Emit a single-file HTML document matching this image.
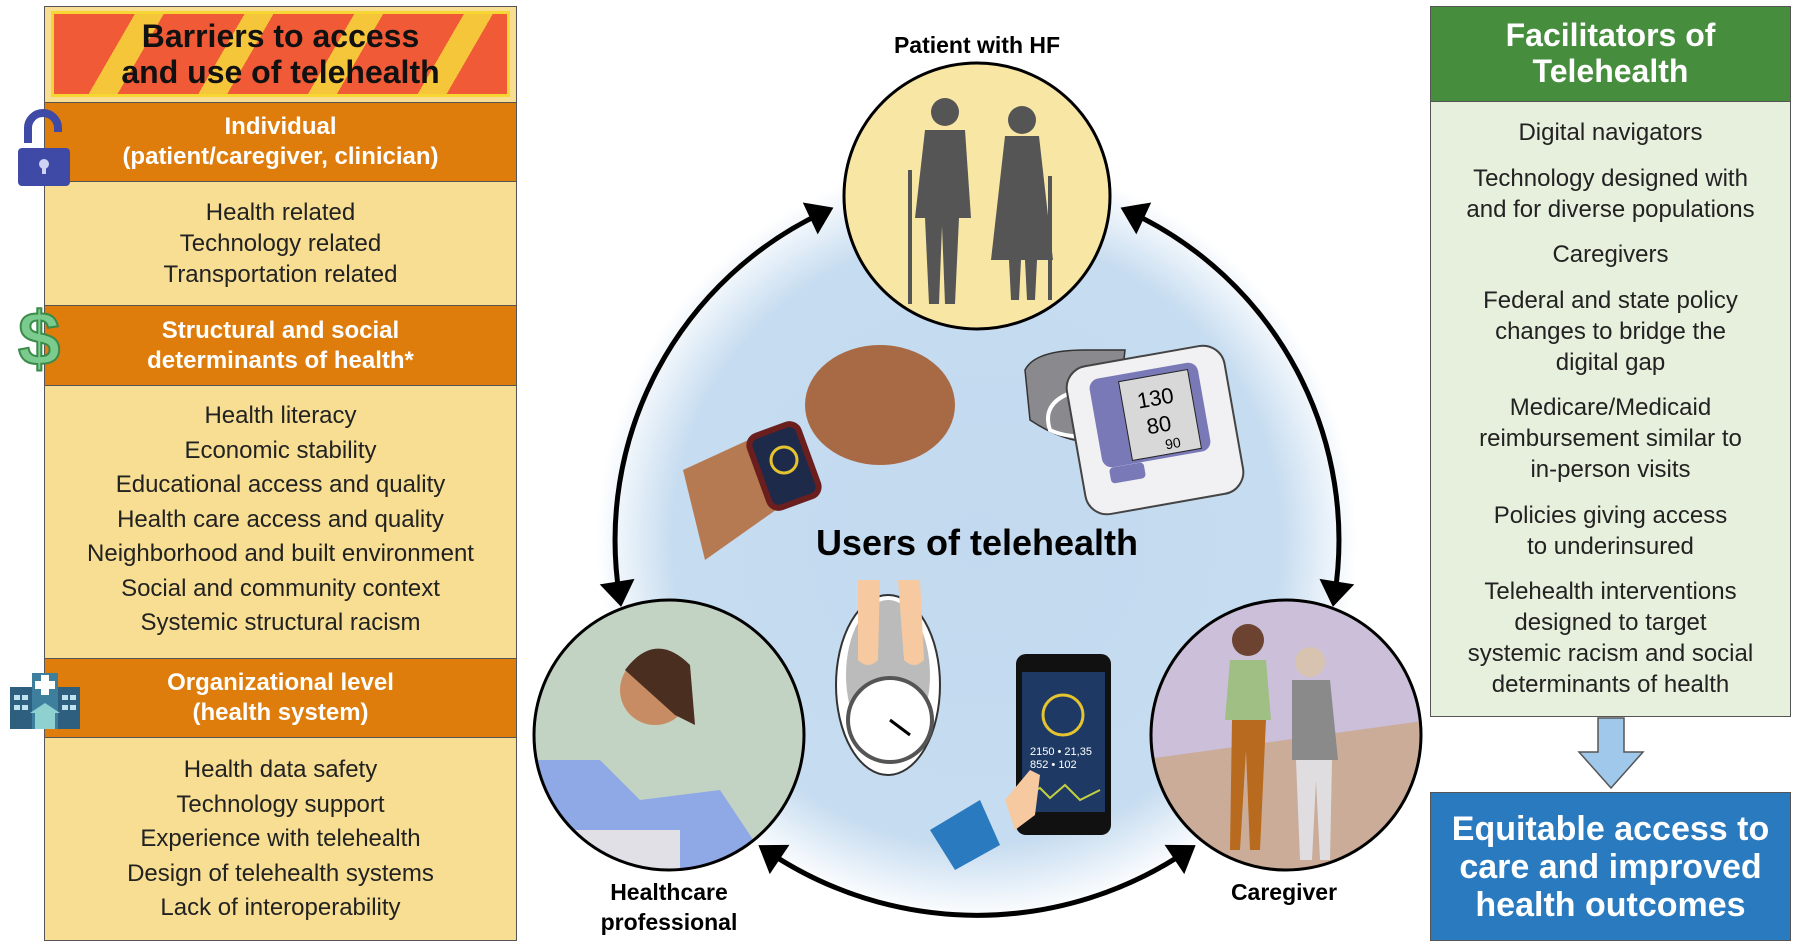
<!DOCTYPE html>
<html><head><meta charset="utf-8"><style>
*{margin:0;padding:0;box-sizing:border-box}
body{width:1800px;height:949px;background:#fff;position:relative;overflow:hidden;font-family:"Liberation Sans",Arial,sans-serif;color:#1a1a1a}
.abs{position:absolute}
.left{left:44px;top:6px;width:473px;height:935px;border:1.5px solid #555;background:#f7de92}
.hdr{position:absolute;left:0;width:100%;background:#de7c0c;color:#fff;font-weight:bold;font-size:24px;text-align:center;line-height:30px;border-top:1.5px solid #555;border-bottom:1.5px solid #555;display:flex;flex-direction:column;justify-content:center}
.cnt{position:absolute;left:0;width:100%;text-align:center;font-size:24px;color:#222}
.right{left:1430px;top:6px;width:361px;height:711px;border:1.5px solid #555;background:#e7f0dd}
.rh{position:absolute;left:0;top:0;width:100%;height:95px;background:#468d3e;color:#fff;font-weight:bold;font-size:32px;line-height:36px;text-align:center;padding-top:10px;border-bottom:1.5px solid #555}
.rc{position:absolute;left:0;top:110px;width:100%;text-align:center;font-size:24px;line-height:31px;color:#222}
.rc p{margin-bottom:14.5px}
</style></head><body>

<div class="abs left">
  <div class="abs" style="left:6px;top:4px;width:459px;height:86px;background:#f7d633;padding:3px">
    <div style="width:100%;height:100%;background:repeating-linear-gradient(120deg,#f05a36 0 70px,#f6c63a 70px 95px);display:flex;flex-direction:column;justify-content:center;text-align:center;font-weight:bold;font-size:32px;line-height:36px;color:#111">Barriers to access<br>and use of telehealth</div>
  </div>
  <div class="hdr" style="top:95px;height:80px">Individual<br>(patient/caregiver, clinician)</div>
  <div class="cnt" style="top:190px;line-height:31px">Health related<br>Technology related<br>Transportation related</div>
  <div class="hdr" style="top:298px;height:81px">Structural and social<br>determinants of health*</div>
  <div class="cnt" style="top:392px;line-height:34.5px">Health literacy<br>Economic stability<br>Educational access and quality<br>Health care access and quality<br>Neighborhood and built environment<br>Social and community context<br>Systemic structural racism</div>
  <div class="hdr" style="top:651px;height:80px">Organizational level<br>(health system)</div>
  <div class="cnt" style="top:746px;line-height:34.5px">Health data safety<br>Technology support<br>Experience with telehealth<br>Design of telehealth systems<br>Lack of interoperability</div>
</div>

<svg class="abs" style="left:14px;top:88px" width="60" height="120">
  <path d="M14 55 V40 a15 15 0 0 1 30 0 v4" fill="none" stroke="#3f49a6" stroke-width="8"/>
  <rect x="4" y="60" width="52" height="38" rx="4" fill="#3f49a6"/>
  <circle cx="30" cy="76" r="5" fill="#cfd3f2"/><rect x="28" y="78" width="4" height="8" fill="#cfd3f2"/>
</svg>
<div class="abs" style="left:18px;top:302px;font-size:76px;font-weight:bold;color:#7ccb8e;line-height:76px;-webkit-text-stroke:2px #3a8a4a">$</div>
<svg class="abs" style="left:10px;top:665px" width="70" height="65">
  <rect x="0" y="22" width="70" height="42" fill="#2f5f7e"/>
  <rect x="22" y="8" width="26" height="56" fill="#3f7f9e"/>
  <rect x="31" y="10" width="8" height="20" fill="#fff"/><rect x="25" y="16" width="20" height="8" fill="#fff"/>
  <polygon points="20,48 35,38 50,48" fill="#8fd0d0"/><rect x="25" y="48" width="20" height="16" fill="#8fd0d0"/>
  <g fill="#bfe3ef"><rect x="4" y="30" width="6" height="5"/><rect x="12" y="30" width="6" height="5"/><rect x="52" y="30" width="6" height="5"/><rect x="60" y="30" width="6" height="5"/><rect x="4" y="40" width="6" height="5"/><rect x="12" y="40" width="6" height="5"/><rect x="52" y="40" width="6" height="5"/><rect x="60" y="40" width="6" height="5"/></g>
</svg>

<svg class="abs" style="left:0;top:0" width="1800" height="949">
  <defs>
    <radialGradient id="bg" cx="977" cy="540" r="380" gradientUnits="userSpaceOnUse">
      <stop offset="0" stop-color="#c3d9ef"/><stop offset="0.8" stop-color="#c6dcf0"/><stop offset="1" stop-color="#fff"/>
    </radialGradient>
    <clipPath id="c1"><circle cx="669" cy="735" r="134"/></clipPath>
    <clipPath id="c2"><circle cx="1286" cy="735" r="134"/></clipPath>
    <marker id="ah" viewBox="0 0 10 10" refX="5" refY="5" markerWidth="8" markerHeight="8" orient="auto-start-reverse" markerUnits="userSpaceOnUse" style="overflow:visible">
      <polygon points="-14,-17 18,5 -14,27" fill="#000"/>
    </marker>
  </defs>
  <circle cx="977" cy="540" r="380" fill="url(#bg)"/>
  <path d="M619.5 596.6 A362 362 0 0 1 824 212" fill="none" stroke="#000" stroke-width="5" marker-start="url(#ah)" marker-end="url(#ah)"/>
  <path d="M1130 212 A362 362 0 0 1 1334.5 596.6" fill="none" stroke="#000" stroke-width="5" marker-start="url(#ah)" marker-end="url(#ah)"/>
  <path d="M767 851 A375 375 0 0 0 1187 851" fill="none" stroke="#000" stroke-width="5" marker-start="url(#ah)" marker-end="url(#ah)"/>

  <circle cx="977" cy="196" r="133" fill="#f8e6a5" stroke="#000" stroke-width="3"/>
  <g fill="#555">
    <circle cx="945" cy="112" r="14"/><path d="M925 130 h40 l6 88 h-12 l-4 86 h-10 l-3 -78 l-3 78 h-10 l-4-86 h-10z"/>
    <rect x="908" y="170" width="4" height="134"/>
    <circle cx="1022" cy="120" r="14"/><path d="M1005 136 h34 l14 124 h-16 l-2 40 h-8 l-2 -40 h-4 l-2 40 h-8 l-2 -40 h-18z"/>
    <rect x="1048" y="176" width="4" height="124"/>
  </g>

  <circle cx="669" cy="735" r="135" fill="#c3d3c3"/>
  <g clip-path="url(#c1)">
    <path d="M530 760 L600 760 L640 800 L720 790 L780 880 L530 880z" fill="#8fa8e6"/>
    <circle cx="655" cy="690" r="35" fill="#c78c63"/>
    <path d="M625 670 q30 -40 65 -5 l5 60 l-20 -10 z" fill="#4a2e20"/>
    <rect x="530" y="830" width="150" height="40" fill="#e0e0e6"/>
  </g>
  <circle cx="669" cy="735" r="135" fill="none" stroke="#000" stroke-width="3"/>

  <circle cx="1286" cy="735" r="135" fill="#cbbfd9"/>
  <g clip-path="url(#c2)">
    <path d="M1140 760 L1430 720 L1430 880 L1140 880z" fill="#c9a47e" opacity="0.7"/>
    <circle cx="1248" cy="640" r="16" fill="#6b4330"/>
    <path d="M1230 660 h36 l5 60 h-46z" fill="#9fbf85"/>
    <path d="M1232 720 h34 l-6 130 h-10 l-4 -100 l-6 100 h-10z" fill="#b86a1f"/>
    <circle cx="1310" cy="662" r="15" fill="#d8c3b0"/>
    <path d="M1292 680 h38 l8 80 h-46z" fill="#8a8a8a"/>
    <path d="M1296 760 h36 l-2 100 h-10 l-4 -80 l-4 80 h-12z" fill="#e0dde0"/>
  </g>
  <circle cx="1286" cy="735" r="135" fill="none" stroke="#000" stroke-width="3"/>

  <polygon points="683,470 770,430 790,500 705,560" fill="#b67a52"/>
  <ellipse cx="880" cy="405" rx="75" ry="60" fill="#a86a45"/>
  <rect x="758" y="428" width="52" height="76" rx="10" fill="#1d2a4a" stroke="#6b1e1e" stroke-width="6" transform="rotate(-20 784 466)"/>
  <circle cx="784" cy="460" r="13" fill="none" stroke="#e6c430" stroke-width="3"/>

  <path d="M1025 370 q10 -20 60 -20 l40 0 l-10 90 q-40 10 -85 -20z" fill="#8a8a8e" stroke="#333" stroke-width="1.5"/>
  <path d="M1080 390 q-40 10 -30 40 q20 10 60 5" fill="none" stroke="#fff" stroke-width="4"/>
  <rect x="1075" y="355" width="160" height="150" rx="22" fill="#f1f1f3" stroke="#444" stroke-width="2" transform="rotate(-10 1155 430)"/>
  <rect x="1095" y="370" width="110" height="90" rx="10" fill="#7a79b8" transform="rotate(-10 1150 415)"/>
  <rect x="1125" y="375" width="70" height="80" fill="#d8d8d8" stroke="#222" transform="rotate(-10 1160 415)"/>
  <text x="1140" y="405" font-size="22" font-family="Liberation Sans" transform="rotate(-10 1160 415)">130</text>
  <text x="1145" y="432" font-size="22" font-family="Liberation Sans" transform="rotate(-10 1160 415)">80</text>
  <text x="1160" y="450" font-size="14" font-family="Liberation Sans" transform="rotate(-10 1160 415)">90</text>
  <rect x="1110" y="465" width="35" height="16" rx="4" fill="#7a79b8" transform="rotate(-10 1127 473)"/>

  <ellipse cx="888" cy="685" rx="52" ry="90" fill="#fff" stroke="#333" stroke-width="2"/>
  <ellipse cx="888" cy="675" rx="42" ry="75" fill="#bbb"/>
  <circle cx="890" cy="720" r="42" fill="#fff" stroke="#555" stroke-width="4"/>
  <line x1="890" y1="720" x2="910" y2="735" stroke="#000" stroke-width="3"/>
  <path d="M858 580 h22 l-2 80 q-10 10 -20 0z M898 580 h22 l4 80 q-10 10 -20 0z" fill="#f6c9a0"/>

  <rect x="1016" y="654" width="95" height="181" rx="10" fill="#111"/>
  <rect x="1022" y="672" width="83" height="140" fill="#1e3a64"/>
  <circle cx="1063" cy="715" r="20" fill="none" stroke="#e6c430" stroke-width="3"/>
  <text x="1030" y="755" font-size="11" fill="#fff" font-family="Liberation Sans">2150 • 21,35</text>
  <text x="1030" y="768" font-size="11" fill="#fff" font-family="Liberation Sans">852 • 102</text>
  <polyline points="1026,795 1040,788 1050,798 1065,785 1080,800 1100,790" fill="none" stroke="#c4d040" stroke-width="2"/>
  <path d="M1005 800 l25 -30 l10 5 l-5 40 l-20 15z" fill="#f6c9a0"/>
  <polygon points="930,830 980,800 1000,845 955,870" fill="#2a7ac0"/>

  <text x="977" y="53" text-anchor="middle" font-size="23" font-weight="bold" font-family="Liberation Sans">Patient with HF</text>
  <text x="977" y="555" text-anchor="middle" font-size="36" font-weight="bold" font-family="Liberation Sans">Users of telehealth</text>
  <text x="669" y="900" text-anchor="middle" font-size="23" font-weight="bold" font-family="Liberation Sans">Healthcare</text>
  <text x="669" y="930" text-anchor="middle" font-size="23" font-weight="bold" font-family="Liberation Sans">professional</text>
  <text x="1284" y="900" text-anchor="middle" font-size="23" font-weight="bold" font-family="Liberation Sans">Caregiver</text>

  <polygon points="1598,718 1624,718 1624,752 1643,752 1611,788 1579,752 1598,752" fill="#9fc8ea" stroke="#555" stroke-width="1.5"/>
</svg>

<div class="abs right">
  <div class="rh">Facilitators of<br>Telehealth</div>
  <div class="rc">
    <p>Digital navigators</p>
    <p>Technology designed with<br>and for diverse populations</p>
    <p>Caregivers</p>
    <p>Federal and state policy<br>changes to bridge the<br>digital gap</p>
    <p>Medicare/Medicaid<br>reimbursement similar to<br>in-person visits</p>
    <p>Policies giving access<br>to underinsured</p>
    <p>Telehealth interventions<br>designed to target<br>systemic racism and social<br>determinants of health</p>
  </div>
</div>
<div class="abs" style="left:1430px;top:792px;width:361px;height:149px;background:#2a7ac0;border:1.5px solid #555;color:#fff;font-weight:bold;font-size:34px;line-height:38px;text-align:center;display:flex;flex-direction:column;justify-content:center">Equitable access to<br>care and improved<br>health outcomes</div>
</body></html>
